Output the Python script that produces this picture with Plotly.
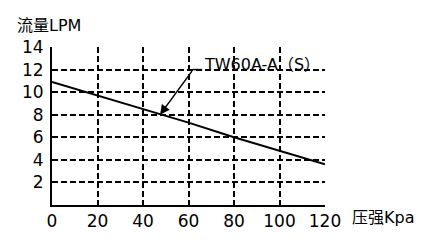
import plotly.graph_objects as go

pressure_kpa = [0, 20, 40, 60, 80, 100, 120]
flow_lpm = [10.9, 9.7, 8.5, 7.3, 6.0, 4.8, 3.6]
x_ticks = [0, 20, 40, 60, 80, 100, 120]
y_ticks = [2, 4, 6, 8, 10, 12, 14]
series_name = "TW60A-A（S）"
y_title = "流量LPM"
x_title = "压强Kpa"
arrow_point = (47.5, 8.0)
label_anchor = (62.0, 12.0)
label_text_x = 66.0

font_main = "DejaVu Sans, Noto Sans CJK SC"

fig = go.Figure()
fig.add_trace(go.Scatter(x=pressure_kpa, y=flow_lpm, mode="lines",
                         line=dict(color="black", width=2), showlegend=False,
                         hoverinfo="skip"))

axis_common = dict(showgrid=True, gridcolor="black", gridwidth=1.6,
                   griddash="6px,3px", zeroline=False, showline=True,
                   linecolor="black", linewidth=2, ticks="",
                   tickfont=dict(family=font_main, size=17, color="black"))

fig.update_xaxes(range=[0, 120], tickvals=x_ticks, ticktext=[str(v) for v in x_ticks],
                 **axis_common)
fig.update_yaxes(range=[0, 14], tickvals=y_ticks, ticktext=[str(v) for v in y_ticks],
                 ticklabelstandoff=3, **axis_common)

# leader: horizontal stub + arrow
fig.add_shape(type="line", x0=label_anchor[0], y0=label_anchor[1], x1=label_text_x,
              y1=label_anchor[1], line=dict(color="black", width=1.5), layer="above")
fig.add_annotation(x=arrow_point[0], y=arrow_point[1], ax=label_anchor[0], ay=label_anchor[1],
                   axref="x", ayref="y", xref="x", yref="y", text="", showarrow=True,
                   arrowhead=2, arrowsize=1.3, arrowwidth=1.5, arrowcolor="black")
fig.add_annotation(x=label_text_x, y=label_anchor[1], xref="x", yref="y", text=series_name,
                   showarrow=False, xanchor="left", yanchor="bottom", yshift=-6,
                   font=dict(family=font_main, size=16, color="black"))
fig.add_annotation(x=-0.1355, y=1.139, xref="paper", yref="paper", text=y_title,
                   showarrow=False, xanchor="left", yanchor="middle",
                   font=dict(family=font_main, size=16, color="black"))
fig.add_annotation(x=1.09, y=-0.076, xref="paper", yref="paper", text=x_title,
                   showarrow=False, xanchor="left", yanchor="middle",
                   font=dict(family=font_main, size=16, color="black"))

fig.update_layout(
    width=426, height=244,
    margin=dict(l=52, r=101, t=47, b=39),
    plot_bgcolor="white", paper_bgcolor="white",
)

fig.write_html("out.html")
